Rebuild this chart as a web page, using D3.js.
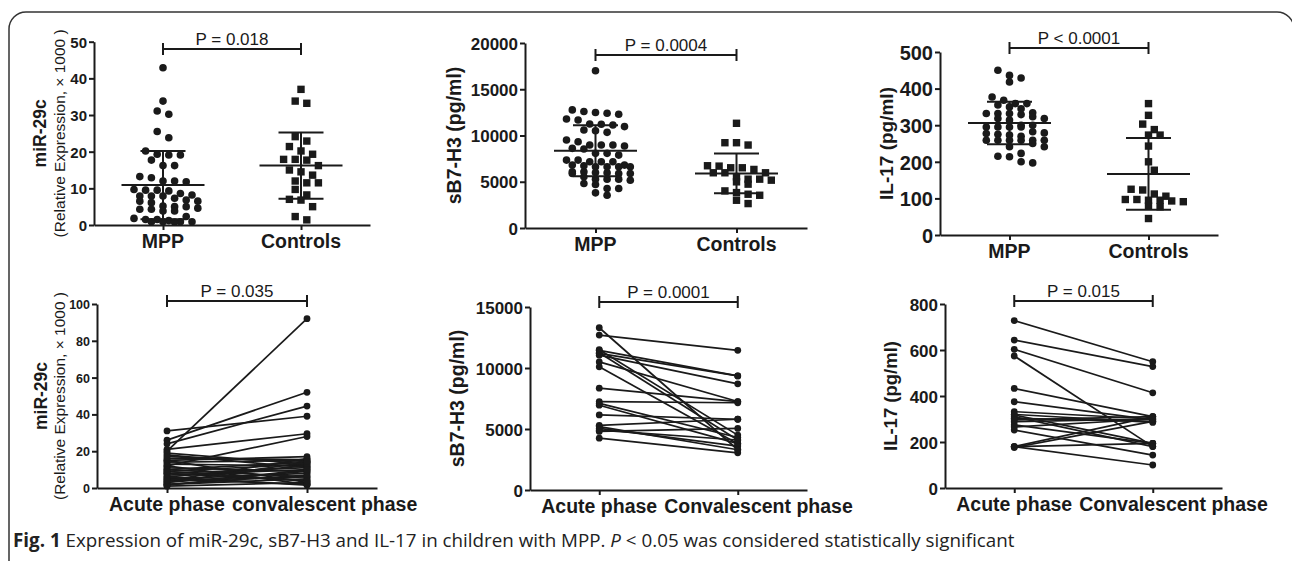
<!DOCTYPE html>
<html>
<head>
<meta charset="utf-8">
<script src="https://cdn.jsdelivr.net/npm/d3@7"></script>
<style>
  body { margin: 0; background: #fff; }
  svg { display: block; font-family: "Liberation Sans", Arial, sans-serif; }
</style>
</head>
<body>
<svg id="fig" width="1292" height="561"></svg>
<script>
// ---- data ----
const groups = ["MPP", "Controls"];
const phasesLower = ["Acute phase", "convalescent phase"];
const phasesUpper = ["Acute phase", "Convalescent phase"];

// miR-29c, MPP vs controls (relative expression x1000)
const mirMPP = [42.9, 33.8, 31.1, 30.2, 25.5, 23.8, 20.2, 19.3, 19.1, 19.1, 17.7, 16.2, 16.2,
  13.2, 12.9, 12.0, 12.0, 11.8, 9.7, 9.5, 9.5, 9.3, 8.6, 8.2, 7.9, 7.9, 7.9, 7.3, 6.8, 6.5, 6.5, 6.1,
  5.2, 5.0, 5.0, 4.6, 4.3, 4.3, 3.8, 3.8, 2.3, 1.8, 1.5, 1.5, 1.2, 0.9, 0.9, 0.9, 0.9, 0.8];
const mirCtrl = [37.0, 33.8, 33.2, 24.1, 22.9, 21.4, 20.2, 19.3, 17.9, 17.9, 17.7, 16.2, 15.0,
  14.5, 13.6, 12.0, 11.5, 11.5, 9.7, 8.2, 7.0, 6.8, 5.0, 2.3, 1.4];
const mirMean = [10.9, 16.2];
const mirSD = [9.3, 9.05];

// sB7-H3 (pg/ml)
const b7MPP = [17000, 12770, 12590, 12480, 12400, 12300, 11790, 11680, 11250, 11210, 11140, 10960,
  10600, 10520, 10340, 9510, 9330, 8970, 8970, 8970, 8860, 8610, 8540, 8070, 8070, 7880, 7340, 7340,
  7160, 7160, 7160, 6800, 6800, 6730, 6620, 6620, 6620, 6620, 6080, 6080, 6000, 5970, 5900, 5900,
  5900, 5530, 5280, 5280, 5280, 5170, 4810, 4700, 4270, 4270, 3800, 3540];
const b7Ctrl = [11320, 9220, 9220, 8970, 6730, 6690, 6510, 6510, 6330, 5970, 5970, 5970, 5530,
  5280, 5280, 5170, 4990, 4740, 4010, 3830, 3650, 3540, 3000, 2640];
const b7Mean = [8350, 5900];
const b7SD = [2750, 2150];

// IL-17 (pg/ml)
const ilMPP = [450, 436, 429, 418, 377, 368, 359, 359, 355, 350, 345, 334, 332, 332, 332, 329,
  323, 318, 318, 314, 300, 300, 295, 295, 295, 295, 282, 279, 277, 275, 273, 270, 259, 259, 259,
  259, 259, 259, 250, 241, 241, 223, 215, 214, 200, 197];
const ilCtrl = [359, 327, 303, 288, 273, 273, 243, 200, 177, 125, 123, 112, 106, 97, 97, 95, 95,
  93, 91, 79, 77, 45];
const ilMean = [306, 167];
const ilSD = [58, 98];

// paired samples: acute phase -> convalescent phase
const mirAcute = [20, 26, 24, 31, 21, 12, 15, 16, 14, 13, 10, 11, 9, 8, 7, 6, 5, 4, 3, 2, 1,
  15, 12, 6, 8, 18, 3, 2, 10, 5, 19, 1.5, 4, 17, 9];
const mirConv = [92, 52, 44.5, 39, 29.5, 28, 17, 15.5, 15, 12, 14, 9, 13, 11, 10, 12, 8, 6, 9, 5, 3,
  3, 2, 1.5, 4, 11, 14, 7, 6, 2, 13, 10, 16, 14.5, 4];

const b7Acute = [12700, 13300, 11450, 11200, 11050, 10500, 10100, 11250, 11500, 8350, 7250, 6950,
  7100, 6150, 5300, 5050, 4800, 4250, 5200, 4900];
const b7Conv = [11450, 3300, 9350, 9350, 8700, 7250, 3800, 4100, 4500, 7250, 7150, 3800, 4300,
  5800, 5800, 3600, 5050, 3050, 3300, 4100];

const ilAcute = [728, 643, 603, 574, 433, 375, 332, 317, 303, 288, 274, 252, 180, 180, 176, 180,
  310, 320, 296, 265];
const ilConv = [549, 528, 414, 180, 310, 296, 300, 194, 290, 300, 194, 143, 100, 310, 290, 194,
  180, 285, 310, 300];

const pLabels = ["P = 0.018", "P = 0.0004", "P < 0.0001", "P = 0.035", "P = 0.0001", "P = 0.015"];

// ---- drawing ----
const svg = d3.select("#fig");
const ink = "#1a1a1a";

svg.append("path")
  .attr("d", "M9,561 V29 A17,17 0 0 1 26,12 H1277 A17,17 0 0 1 1294,29 V561")
  .attr("fill", "none").attr("stroke", "#333").attr("stroke-width", 1.5);

function frame(cfg) {
  const g = svg.append("g");
  const x = d3.scalePoint().domain(cfg.cats).range([cfg.x0, cfg.x1]).padding(0.5);
  const y = d3.scaleLinear().domain([0, cfg.max]).range([cfg.y0, cfg.y1]);

  const xa = g.append("g").attr("transform", `translate(0,${cfg.y0})`)
    .call(d3.axisBottom(x).tickSize(5).tickSizeOuter(0).tickFormat(""));
  const ya = g.append("g").attr("transform", `translate(${cfg.x0},0)`)
    .call(d3.axisLeft(y).tickValues(cfg.ticks).tickSize(5).tickSizeOuter(0)
      .tickPadding(2).tickFormat(d3.format("d")));
  [xa, ya].forEach(a => {
    a.selectAll("path, line").attr("stroke", ink).attr("stroke-width", 2);
  });
  ya.selectAll("text").attr("fill", ink).attr("font-size", cfg.tickFont)
    .attr("font-weight", "bold").attr("dy", "0.36em");

  // category labels
  const lab = g.selectAll("text.cat").data(cfg.cats).join("text")
    .attr("class", "cat")
    .attr("x", d => x(d)).attr("y", cfg.y0 + 23)
    .attr("text-anchor", "middle")
    .attr("font-size", 19.5).attr("font-weight", "bold").attr("fill", ink)
    .text(d => d);
  if (cfg.shift) {
    // second label pushed right so that the two long labels do not collide
    const n = lab.nodes();
    const end = x(cfg.cats[0]) + n[0].getComputedTextLength() / 2;
    d3.select(n[1]).attr("text-anchor", "start").attr("x", end + 7);
  }

  // y title
  const cy = (cfg.y0 + cfg.y1) / 2;
  g.append("text")
    .attr("transform", `translate(${cfg.titleX},${cy}) rotate(-90)`)
    .attr("text-anchor", "middle").attr("font-size", cfg.titleFont)
    .attr("font-weight", "bold").attr("fill", ink).text(cfg.title);
  if (cfg.sub) {
    g.append("text")
      .attr("transform", `translate(${cfg.subX},${cy}) rotate(-90)`)
      .attr("text-anchor", "middle").attr("font-size", 15.5)
      .attr("fill", ink).text(cfg.sub);
  }

  // significance bracket
  const bx0 = x(cfg.cats[0]), bx1 = x(cfg.cats[1]);
  g.append("path")
    .attr("d", `M${bx0},${cfg.by - 6}V${cfg.by + 6}M${bx0},${cfg.by}H${bx1}M${bx1},${cfg.by - 6}V${cfg.by + 6}`)
    .attr("fill", "none").attr("stroke", ink).attr("stroke-width", 2);
  g.append("text")
    .attr("x", (bx0 + bx1) / 2).attr("y", cfg.by - 4)
    .attr("text-anchor", "middle").attr("font-size", 17).attr("fill", ink)
    .text(cfg.p);

  return { g, x, y };
}

// GraphPad style scatter: values close in y share a row and sit side by side
function rowLayout(vals, y, cx, gap, band, maxRow) {
  const pts = vals.map(v => ({ v, py: y(v) })).sort((a, b) => a.py - b.py);
  const rows = [];
  pts.forEach(p => {
    const r = rows[rows.length - 1];
    if (r && p.py - r[0].py < band && r.length < maxRow) r.push(p); else rows.push([p]);
  });
  rows.forEach((r, k) => {
    // a row that sits right under one of the same parity is nudged half a step
    const prev = rows[k - 1];
    const off = prev && r[0].py - prev[0].py < band + 3 && prev.length % 2 === r.length % 2 ? gap / 2 : 0;
    r.forEach((p, j) => { p.px = cx + (j - (r.length - 1) / 2) * gap + off; });
  });
  return pts;
}

function dotPanel(cfg) {
  const { g, x, y } = frame(cfg);
  cfg.values.forEach((vals, i) => {
    const cx = x(cfg.cats[i]);
    const nodes = rowLayout(vals, y, cx, 11.6, 8, 6);

    if (i === 0) {
      g.selectAll(null).data(nodes).join("circle")
        .attr("cx", d => d.px).attr("cy", d => d.py).attr("r", 3.8).attr("fill", ink);
    } else {
      g.selectAll(null).data(nodes).join("rect")
        .attr("x", d => d.px - 3.7).attr("y", d => d.py - 3.7)
        .attr("width", 7.4).attr("height", 7.4).attr("fill", ink);
    }

    const m = cfg.mean[i], s = cfg.sd[i];
    const path = d3.path();
    path.moveTo(cx - 41.5, y(m)); path.lineTo(cx + 41.5, y(m));
    path.moveTo(cx - 22.5, y(m + s)); path.lineTo(cx + 22.5, y(m + s));
    path.moveTo(cx - 22.5, y(m - s)); path.lineTo(cx + 22.5, y(m - s));
    path.moveTo(cx, y(m + s)); path.lineTo(cx, y(m - s));
    g.append("path").attr("d", path.toString())
      .attr("fill", "none").attr("stroke", ink).attr("stroke-width", 2);
  });
}

function pairPanel(cfg) {
  const { g, x, y } = frame(cfg);
  const pairs = d3.zip(cfg.before, cfg.after);
  const xa = x(cfg.cats[0]), xb = x(cfg.cats[1]);
  g.selectAll(null).data(pairs).join("line")
    .attr("x1", xa).attr("y1", d => y(d[0]))
    .attr("x2", xb).attr("y2", d => y(d[1]))
    .attr("stroke", ink).attr("stroke-width", 1.7);
  g.selectAll(null).data(cfg.before).join("circle")
    .attr("cx", xa).attr("cy", d => y(d)).attr("r", 3.4).attr("fill", ink);
  g.selectAll(null).data(cfg.after).join("circle")
    .attr("cx", xb).attr("cy", d => y(d)).attr("r", 3.4).attr("fill", ink);
}

const mirTitle = "miR-29c", mirSub = "(Relative Expression, \u00d7 1000 )";

dotPanel({ cats: groups, x0: 94, x1: 370, y0: 225, y1: 41.7, max: 50, ticks: d3.range(0, 51, 10),
  tickFont: 15, title: mirTitle, titleX: 46, titleFont: 17.5, sub: mirSub, subX: 65,
  by: 49, p: pLabels[0], values: [mirMPP, mirCtrl], mean: mirMean, sd: mirSD });

dotPanel({ cats: groups, x0: 525, x1: 807, y0: 228, y1: 43, max: 20000, ticks: d3.range(0, 20001, 5000),
  tickFont: 17, title: "sB7-H3 (pg/ml)", titleX: 461, titleFont: 19.5,
  by: 55, p: pLabels[1], values: [b7MPP, b7Ctrl], mean: b7Mean, sd: b7SD });

dotPanel({ cats: groups, x0: 940, x1: 1218, y0: 235, y1: 52, max: 500, ticks: d3.range(0, 501, 100),
  tickFont: 20, title: "IL-17 (pg/ml)", titleX: 893, titleFont: 19,
  by: 48, p: pLabels[2], values: [ilMPP, ilCtrl], mean: ilMean, sd: ilSD });

pairPanel({ cats: phasesLower, shift: true, x0: 97, x1: 377, y0: 488, y1: 304, max: 100, ticks: d3.range(0, 101, 20),
  tickFont: 12.5, title: mirTitle, titleX: 47, titleFont: 17.5, sub: mirSub, subX: 65,
  by: 301, p: pLabels[3], before: mirAcute, after: mirConv });

pairPanel({ cats: phasesUpper, shift: true, x0: 530, x1: 807, y0: 490, y1: 307, max: 15000, ticks: d3.range(0, 15001, 5000),
  tickFont: 17, title: "sB7-H3 (pg/ml)", titleX: 464, titleFont: 19.5,
  by: 302, p: pLabels[4], before: b7Acute, after: b7Conv });

pairPanel({ cats: phasesUpper, shift: true, x0: 945, x1: 1222, y0: 488, y1: 304, max: 800, ticks: d3.range(0, 801, 200),
  tickFont: 17, title: "IL-17 (pg/ml)", titleX: 897, titleFont: 18.5,
  by: 301, p: pLabels[5], before: ilAcute, after: ilConv });

// caption
const cap = svg.append("text").attr("x", 13).attr("y", 547)
  .attr("font-family", "'Open Sans', 'Noto Sans', sans-serif").attr("font-size", 18.8).attr("fill", "#222");
cap.append("tspan").attr("font-weight", "bold").text("Fig. 1");
cap.append("tspan").text(" Expression of miR-29c, sB7-H3 and IL-17 in children with MPP. ");
cap.append("tspan").attr("font-style", "italic").text("P");
cap.append("tspan").text(" < 0.05 was considered statistically significant");
</script>
</body>
</html>
